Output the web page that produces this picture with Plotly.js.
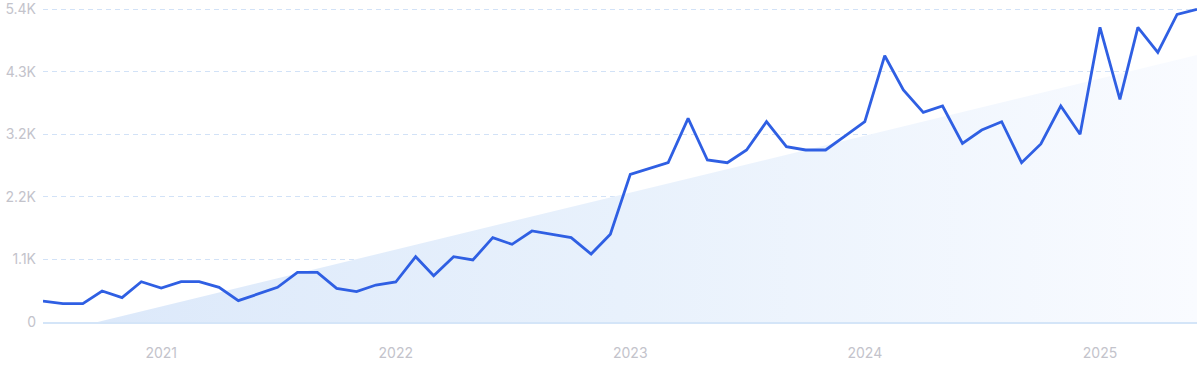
<!DOCTYPE html>
<html>
<head>
<meta charset="utf-8">
<script src="https://cdn.plot.ly/plotly-3.0.1.min.js"></script>
<style>
html,body{margin:0;padding:0;background:#fff;}
#chart{width:1200px;height:371px;}
</style>
</head>
<body>
<div id="chart"></div>
<script>
const months = [
 '2020-07-01','2020-08-01','2020-09-01','2020-10-01','2020-11-01','2020-12-01',
 '2021-01-01','2021-02-01','2021-03-01','2021-04-01','2021-05-01','2021-06-01',
 '2021-07-01','2021-08-01','2021-09-01','2021-10-01','2021-11-01','2021-12-01',
 '2022-01-01','2022-02-01','2022-03-01','2022-04-01','2022-05-01','2022-06-01',
 '2022-07-01','2022-08-01','2022-09-01','2022-10-01','2022-11-01','2022-12-01',
 '2023-01-01','2023-02-01','2023-03-01','2023-04-01','2023-05-01','2023-06-01',
 '2023-07-01','2023-08-01','2023-09-01','2023-10-01','2023-11-01','2023-12-01',
 '2024-01-01','2024-02-01','2024-03-01','2024-04-01','2024-05-01','2024-06-01',
 '2024-07-01','2024-08-01','2024-09-01','2024-10-01','2024-11-01','2024-12-01',
 '2025-01-01','2025-02-01','2025-03-01','2025-04-01','2025-05-01','2025-06-01'
];
const volume = [
 360, 315, 315, 532, 418, 692,
 584, 692, 692, 596, 366, 480,
 596, 853, 853, 578, 521, 635,
 687, 1122, 795, 1122, 1065, 1448,
 1334, 1563, 1506, 1448, 1168, 1506,
 2536, 2639, 2736, 3498, 2782, 2736,
 2954, 3440, 3011, 2954, 2954, 3194,
 3440, 4573, 3984, 3601, 3709, 3068,
 3297, 3440, 2736, 3057, 3709, 3223,
 5060, 3824, 5060, 4631, 5283, 5370
];
const trendX = ['2020-07-01', '2020-09-24', '2025-06-01'];
const trendY = [0, 0, 4585];
const tickVals = [0, 1075, 2150, 3225, 4300, 5375];
const tickText = ['0', '1.1K', '2.2K', '3.2K', '4.3K', '5.4K'];
const yearTicks = ['2021-01-01','2022-01-01','2023-01-01','2024-01-01','2025-01-01'];
const yearLabels = ['2021','2022','2023','2024','2025'];

const traces = [
  {
    x: trendX, y: trendY, type: 'scatter', mode: 'lines',
    line: {width: 0, color: 'rgba(0,0,0,0)'},
    fill: 'tozeroy',
    fillcolor: 'rgba(220,233,250,0.9)',
    fillgradient: {
      type: 'horizontal',
      colorscale: [[0, 'rgb(219,232,250)'], [0.5, 'rgb(232,241,252)'], [1, 'rgb(249,251,255)']]
    },
    hoverinfo: 'skip', showlegend: false
  },
  {
    x: months, y: volume, type: 'scatter', mode: 'lines',
    line: {color: '#2f5fe3', width: 2.8, shape: 'linear'},
    cliponaxis: false,
    showlegend: false
  }
];

const layout = {
  width: 1200, height: 371,
  margin: {l: 43, r: 3, t: 0, b: 49},
  paper_bgcolor: '#ffffff', plot_bgcolor: '#ffffff',
  font: {family: 'Inter, "Noto Sans", sans-serif', size: 14, color: '#c3c3cb'},
  xaxis: {
    type: 'date',
    range: ['2020-07-01', '2025-06-01'],
    tickvals: yearTicks, ticktext: yearLabels,
    showgrid: false, zeroline: false,
    showline: true, linecolor: '#d4e5f8', linewidth: 1.5,
    ticks: '', ticklabelstandoff: 18,
    tickfont: {size: 14, color: '#c3c3cb'},
    fixedrange: true
  },
  yaxis: {
    range: [0, 5530],
    tickvals: tickVals, ticktext: tickText,
    showgrid: true, gridcolor: '#d2e2f7', griddash: '5px,4px', gridwidth: 1,
    zeroline: false, showline: false,
    ticks: '', ticklabelstandoff: 6,
    ticklabeloverflow: 'allow',
    tickfont: {size: 14, color: '#c3c3cb'},
    fixedrange: true
  },
  showlegend: false
};

Plotly.newPlot('chart', traces, layout, {displayModeBar: false, staticPlot: true});
</script>
</body>
</html>
